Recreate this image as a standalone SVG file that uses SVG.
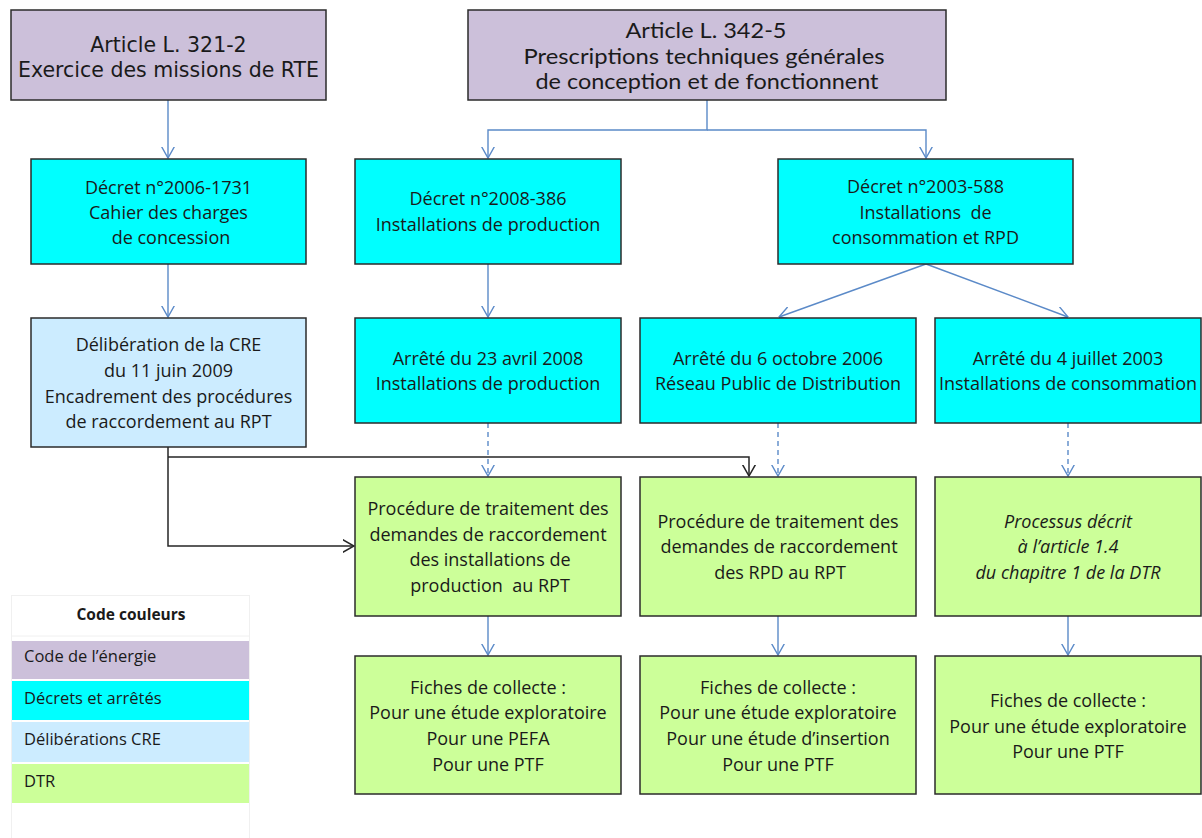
<svg xmlns="http://www.w3.org/2000/svg" width="1202" height="838" viewBox="0 0 1202 838">
<style>
.box{stroke:#2b2b2b;stroke-width:1.5}
.law{fill:#CCC0DA}
.dec{fill:#00FFFF}
.cre{fill:#CCECFF}
.dtr{fill:#CCFF99}
.t{font-family:"Open Sans","Noto Sans",sans-serif;font-size:18px;fill:#1a1a1a;text-anchor:middle}
.ti{font-style:italic}
.tv{font-family:"DejaVu Sans",Verdana,sans-serif;font-size:20.5px;fill:#1a1a1a;text-anchor:middle}
.ta{font-family:Lato,"Open Sans",sans-serif;font-size:21px;fill:#1a1a1a;text-anchor:middle}
.lg{font-family:"Open Sans","Noto Sans",sans-serif;font-size:16.5px;fill:#1a1a1a}
.lgb{font-family:"Open Sans","Noto Sans",sans-serif;font-size:15.5px;font-weight:bold;fill:#1a1a1a;text-anchor:middle}
.c{fill:none;stroke:#5B8AC8;stroke-width:1.4}
.d{stroke-dasharray:5 4}
.k{fill:none;stroke:#262626;stroke-width:1.5}
</style>
<defs>
<marker id="ab" viewBox="0 0 12 14" refX="11.5" refY="7" markerWidth="12" markerHeight="14" markerUnits="userSpaceOnUse" orient="auto">
<path d="M0,0.5 L11.5,7 L0,13.5" fill="none" stroke="#5B8AC8" stroke-width="1.4"/>
</marker>
<marker id="ak" viewBox="0 0 12 14" refX="11.5" refY="7" markerWidth="12" markerHeight="14" markerUnits="userSpaceOnUse" orient="auto">
<path d="M0,0.5 L11.5,7 L0,13.5" fill="none" stroke="#262626" stroke-width="1.5"/>
</marker>
</defs>
<rect width="1202" height="838" fill="#ffffff"/>

<g id="connectors">
<path class="c" d="M168,100 V158" marker-end="url(#ab)"/>
<path class="c" d="M707,100 V130 H488 V158" marker-end="url(#ab)"/>
<path class="c" d="M707,130 H926 V158" marker-end="url(#ab)"/>
<path class="c" d="M168,264 V317" marker-end="url(#ab)"/>
<path class="c" d="M488,264 V317" marker-end="url(#ab)"/>
<path class="c" d="M926,264 L779,317" marker-end="url(#ab)"/>
<path class="c" d="M926,264 L1068,317" marker-end="url(#ab)"/>
<path class="c d" d="M488,423 V476" marker-end="url(#ab)"/>
<path class="c d" d="M778,423 V476" marker-end="url(#ab)"/>
<path class="c d" d="M1068,423 V476" marker-end="url(#ab)"/>
<path class="k" d="M168,447 V546 H354" marker-end="url(#ak)"/>
<path class="k" d="M168,457 H749 V476" marker-end="url(#ak)"/>
<path class="c" d="M488,616 V655" marker-end="url(#ab)"/>
<path class="c" d="M778,616 V655" marker-end="url(#ab)"/>
<path class="c" d="M1068,616 V655" marker-end="url(#ab)"/>
</g>

<g id="article-321-2">
<rect class="box law" x="11" y="10" width="315" height="90"/>
<text class="tv" x="168.5" y="52">Article L. 321-2</text>
<text class="tv" x="168.5" y="77">Exercice des missions de RTE</text>
</g>
<g id="article-342-5">
<rect class="box law" x="468" y="10" width="478" height="90"/>
<text class="ta" x="706" y="38" textLength="161" lengthAdjust="spacingAndGlyphs">Article L. 342-5</text>
<text class="ta" x="704" y="64" textLength="361" lengthAdjust="spacingAndGlyphs">Prescriptions techniques générales</text>
<text class="ta" x="707" y="89" textLength="343" lengthAdjust="spacingAndGlyphs">de conception et de fonctionnent</text>
</g>

<g id="decret-2006-1731">
<rect class="box dec" x="31" y="159" width="275" height="105"/>
<text class="t" x="168.5" y="194">Décret n°2006-1731</text>
<text class="t" x="168.5" y="219">Cahier des charges</text>
<text class="t" x="171" y="244">de concession</text>
</g>
<g id="decret-2008-386">
<rect class="box dec" x="355" y="159" width="266" height="105"/>
<text class="t" x="488" y="205">Décret n°2008-386</text>
<text class="t" x="488" y="231">Installations de production</text>
</g>
<g id="decret-2003-588">
<rect class="box dec" x="778" y="159" width="295" height="105"/>
<text class="t" x="925.5" y="193">Décret n°2003-588</text>
<text class="t" x="925.5" y="219" xml:space="preserve">Installations  de</text>
<text class="t" x="925.5" y="244">consommation et RPD</text>
</g>

<g id="deliberation-cre">
<rect class="box cre" x="31" y="318" width="275" height="129"/>
<text class="t" x="168.5" y="351">Délibération de la CRE</text>
<text class="t" x="168.5" y="377">du 11 juin 2009</text>
<text class="t" x="168.5" y="403">Encadrement des procédures</text>
<text class="t" x="168.5" y="428">de raccordement au RPT</text>
</g>
<g id="arrete-2008">
<rect class="box dec" x="355" y="318" width="266" height="105"/>
<text class="t" x="488" y="365">Arrêté du 23 avril 2008</text>
<text class="t" x="488" y="390">Installations de production</text>
</g>
<g id="arrete-2006">
<rect class="box dec" x="640" y="318" width="276" height="105"/>
<text class="t" x="778" y="365">Arrêté du 6 octobre 2006</text>
<text class="t" x="778" y="390">Réseau Public de Distribution</text>
</g>
<g id="arrete-2003">
<rect class="box dec" x="935" y="318" width="266" height="105"/>
<text class="t" x="1068" y="365">Arrêté du 4 juillet 2003</text>
<text class="t" x="1068" y="390">Installations de consommation</text>
</g>

<g id="procedure-production">
<rect class="box dtr" x="355" y="477" width="266" height="139"/>
<text class="t" x="488" y="515">Procédure de traitement des</text>
<text class="t" x="488" y="541">demandes de raccordement</text>
<text class="t" x="490" y="566">des installations de</text>
<text class="t" x="490" y="592" xml:space="preserve">production  au RPT</text>
</g>
<g id="procedure-rpd">
<rect class="box dtr" x="640" y="477" width="276" height="139"/>
<text class="t" x="778" y="528">Procédure de traitement des</text>
<text class="t" x="779" y="553">demandes de raccordement</text>
<text class="t" x="780" y="579">des RPD au RPT</text>
</g>
<g id="processus-dtr">
<rect class="box dtr" x="935" y="477" width="266" height="139"/>
<text class="t ti" x="1068" y="528">Processus décrit</text>
<text class="t ti" x="1068" y="553">à l’article 1.4</text>
<text class="t ti" x="1068" y="579">du chapitre 1 de la DTR</text>
</g>

<g id="fiches-production">
<rect class="box dtr" x="355" y="656" width="266" height="138"/>
<text class="t" x="488" y="694">Fiches de collecte :</text>
<text class="t" x="488" y="719">Pour une étude exploratoire</text>
<text class="t" x="488" y="745">Pour une PEFA</text>
<text class="t" x="488" y="771">Pour une PTF</text>
</g>
<g id="fiches-rpd">
<rect class="box dtr" x="640" y="656" width="276" height="138"/>
<text class="t" x="778" y="694">Fiches de collecte :</text>
<text class="t" x="778" y="719">Pour une étude exploratoire</text>
<text class="t" x="778" y="745">Pour une étude d’insertion</text>
<text class="t" x="778" y="771">Pour une PTF</text>
</g>
<g id="fiches-consommation">
<rect class="box dtr" x="935" y="656" width="266" height="138"/>
<text class="t" x="1068" y="707">Fiches de collecte :</text>
<text class="t" x="1068" y="733">Pour une étude exploratoire</text>
<text class="t" x="1068" y="758">Pour une PTF</text>
</g>

<g id="legend">
<rect x="11.5" y="595.5" width="238" height="250" fill="#ffffff" stroke="#f0f0f0" stroke-width="1"/>
<line x1="12" y1="636" x2="249" y2="636" stroke="#f0f0f0" stroke-width="1"/>
<text class="lgb" x="131" y="620">Code couleurs</text>
<rect x="12" y="641" width="237" height="38" class="law"/>
<text class="lg" x="24" y="662">Code de l’énergie</text>
<rect x="12" y="681" width="237" height="39" class="dec"/>
<text class="lg" x="24" y="704">Décrets et arrêtés</text>
<rect x="12" y="722" width="237" height="40" class="cre"/>
<text class="lg" x="24" y="745">Délibérations CRE</text>
<rect x="12" y="764" width="237" height="39" class="dtr"/>
<text class="lg" x="24" y="787">DTR</text>
</g>
</svg>
